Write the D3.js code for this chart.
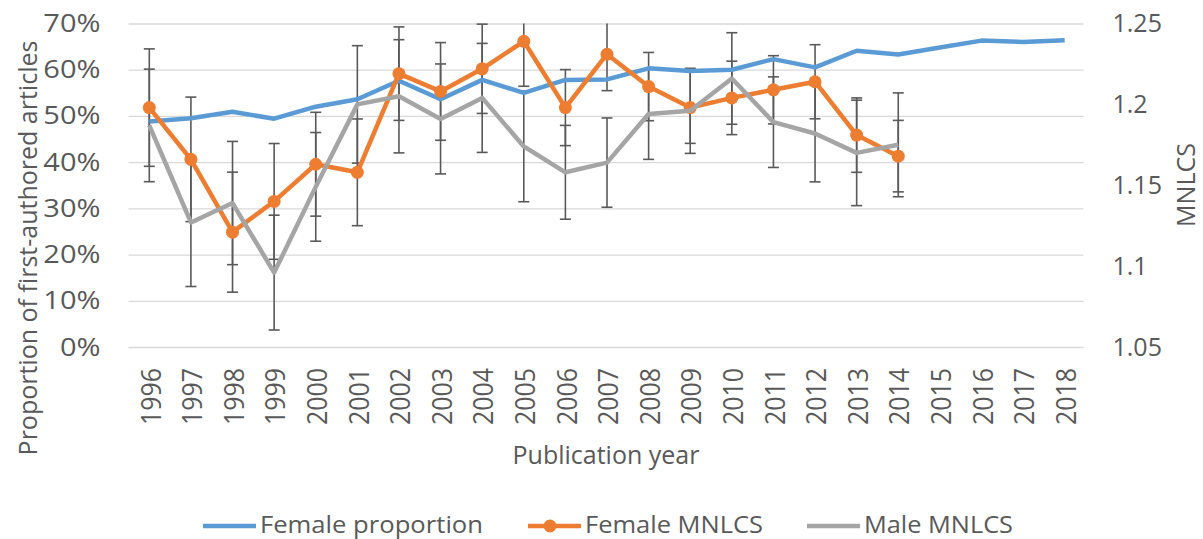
<!DOCTYPE html>
<html>
<head>
<meta charset="utf-8">
<script src="https://cdn.jsdelivr.net/npm/d3@7"></script>
<style>
  html, body { margin: 0; padding: 0; background: #fff; }
  svg { display: block; }
  text { font-family: "Open Sans", "Noto Sans", sans-serif; fill: #595959; }
</style>
</head>
<body>
<svg id="chart" width="1203" height="539"></svg>
<script>
// ---- data ----
const years = ["1996","1997","1998","1999","2000","2001","2002","2003","2004","2005","2006","2007","2008","2009","2010","2011","2012","2013","2014","2015","2016","2017","2018"];
const femaleProportion = [0.488,0.495,0.509,0.494,0.520,0.536,0.576,0.536,0.578,0.550,0.578,0.579,0.603,0.597,0.600,0.623,0.605,0.641,0.633,0.648,0.663,0.660,0.664];
const femaleMNLCS = [1.198,1.166,1.121,1.140,1.163,1.158,1.219,1.208,1.222,1.239,1.198,1.231,1.211,1.198,1.204,1.209,1.214,1.181,1.168,null,null,null,null];
const maleMNLCS   = [1.187,1.127,1.139,1.096,1.149,1.200,1.205,1.191,1.204,1.174,1.158,1.164,1.194,1.196,1.216,1.189,1.182,1.170,1.175,null,null,null,null];
const femaleErr   = [0.0363,0.0385,0.0371,0.0358,0.0321,0.0330,0.0289,0.0302,0.0276,0.0278,0.0235,0.0225,0.0211,0.0221,0.0227,0.0211,0.0229,0.0230,0.0221,null,null,null,null];
const maleErr     = [0.0348,0.0396,0.0381,0.0355,0.0336,0.0363,0.0350,0.0340,0.0337,0.0342,0.0290,0.0276,0.0280,0.0263,0.0283,0.0280,0.0299,0.0326,0.0321,null,null,null,null];
const leftTicks = [0,0.1,0.2,0.3,0.4,0.5,0.6,0.7];
const rightTicks = [1.05,1.1,1.15,1.2,1.25];
const seriesNames = ["Female proportion","Female MNLCS","Male MNLCS"];
const colors = ["#5B9BD5","#ED7D31","#A5A5A5"];

// ---- layout ----
const svg = d3.select("#chart");
const plot = {left: 128.5, right: 1085.5, top: 23.5, bottom: 347};
const x = d3.scaleBand().domain(years).range([plot.left, plot.right]).padding(0);
const yL = d3.scaleLinear().domain([0, 0.7]).range([plot.bottom, plot.top]);
const yR = d3.scaleLinear().domain([1.05, 1.25]).range([plot.bottom, plot.top]);
const cx = d => x(d) + x.bandwidth() / 2;

function stretch(sel, k) {
  sel.each(function() {
    const w = this.getComputedTextLength();
    d3.select(this).attr("textLength", w * k).attr("lengthAdjust", "spacingAndGlyphs");
  });
}

// gridlines + left axis
const gL = svg.append("g").attr("transform", `translate(${plot.left},0)`)
  .call(d3.axisLeft(yL).tickValues(leftTicks).tickFormat(d3.format(".0%"))
        .tickSizeInner(0).tickSizeOuter(0).tickPadding(28));
gL.select(".domain").remove();
gL.selectAll(".tick line").attr("stroke", "#d9d9d9").attr("stroke-width", 1.3)
  .attr("x1", 0).attr("x2", plot.right - plot.left - 2);
gL.selectAll(".tick text").style("font-size", "25px").attr("fill", "#595959");
stretch(gL.selectAll(".tick text"), 1.16);

// right axis
const gR = svg.append("g").attr("transform", `translate(${plot.right},0)`)
  .call(d3.axisRight(yR).tickValues(rightTicks).tickFormat(d => String(+d.toFixed(2)))
        .tickSize(0).tickPadding(27));
gR.select(".domain").remove();
gR.selectAll(".tick text").style("font-size", "25px").attr("fill", "#595959");

// x axis
const gX = svg.append("g").attr("transform", `translate(0,${plot.bottom})`)
  .call(d3.axisBottom(x).tickSize(0).tickPadding(0));
gX.select(".domain").remove();
gX.selectAll(".tick text")
  .style("font-size", "27px")
  .attr("text-anchor", "end")
  .attr("dy", "0.36em")
  .attr("transform", "translate(1.5,21) rotate(-90)")
  .attr("x", 0).attr("y", 0)
  .attr("textLength", 57).attr("lengthAdjust", "spacingAndGlyphs");

// axis titles
svg.append("text").attr("transform", "translate(37,248) rotate(-90)")
  .attr("text-anchor", "middle").style("font-size", "25px")
  .text("Proportion of first-authored articles");
svg.append("text").attr("transform", "translate(1195,185) rotate(-90)")
  .attr("text-anchor", "middle").style("font-size", "25px")
  .text("MNLCS");
svg.append("text").attr("x", 606).attr("y", 464)
  .attr("text-anchor", "middle").style("font-size", "25px")
  .text("Publication year");

// error bars
const errG = svg.append("g").attr("stroke", "#595959").attr("stroke-width", 1.6).attr("fill", "none");
function drawErr(vals, errs) {
  years.forEach((yr, i) => {
    if (vals[i] == null) return;
    const [d0, d1] = yR.domain();
    const lo = vals[i] - errs[i], hi = vals[i] + errs[i];
    const loC = Math.max(lo, d0), hiC = Math.min(hi, d1);
    const xc = cx(yr);
    errG.append("line").attr("x1", xc).attr("x2", xc).attr("y1", yR(loC)).attr("y2", yR(hiC));
    if (lo >= d0) errG.append("line").attr("x1", xc - 5.5).attr("x2", xc + 5.5).attr("y1", yR(lo)).attr("y2", yR(lo));
    if (hi <= d1) errG.append("line").attr("x1", xc - 5.5).attr("x2", xc + 5.5).attr("y1", yR(hi)).attr("y2", yR(hi));
  });
}
drawErr(femaleMNLCS, femaleErr);
drawErr(maleMNLCS, maleErr);

// lines
const lineL = d3.line().defined(d => d[1] != null).x(d => cx(d[0])).y(d => yL(d[1]));
const lineR = d3.line().defined(d => d[1] != null).x(d => cx(d[0])).y(d => yR(d[1]));
svg.append("path").datum(years.map((y, i) => [y, femaleProportion[i]]))
  .attr("d", lineL).attr("fill", "none").attr("stroke", colors[0]).attr("stroke-width", 4.5).attr("stroke-linejoin", "round");

const fData = years.map((y, i) => [y, femaleMNLCS[i]]);
svg.append("path").datum(fData)
  .attr("d", lineR).attr("fill", "none").attr("stroke", colors[1]).attr("stroke-width", 4.5).attr("stroke-linejoin", "round");
svg.append("g").selectAll("circle").data(fData.filter(d => d[1] != null)).join("circle")
  .attr("cx", d => cx(d[0])).attr("cy", d => yR(d[1])).attr("r", 6.5).attr("fill", colors[1]);

svg.append("path").datum(years.map((y, i) => [y, maleMNLCS[i]]))
  .attr("d", lineR).attr("fill", "none").attr("stroke", colors[2]).attr("stroke-width", 4.5).attr("stroke-linejoin", "round");

// legend
const legend = [
  {name: seriesNames[0], color: colors[0], x: 203, w: 223, marker: false},
  {name: seriesNames[1], color: colors[1], x: 528, w: 178, marker: true},
  {name: seriesNames[2], color: colors[2], x: 807, w: 149, marker: false}
];
const lg = svg.append("g");
legend.forEach(l => {
  lg.append("line").attr("x1", l.x).attr("x2", l.x + 53).attr("y1", 526).attr("y2", 526)
    .attr("stroke", l.color).attr("stroke-width", 4.5);
  if (l.marker) lg.append("circle").attr("cx", l.x + 22).attr("cy", 526).attr("r", 6.5).attr("fill", l.color);
  lg.append("text").attr("x", l.x + 57).attr("y", 533)
    .style("font-size", "24px").attr("textLength", l.w).attr("lengthAdjust", "spacingAndGlyphs").text(l.name);
});
</script>
</body>
</html>
